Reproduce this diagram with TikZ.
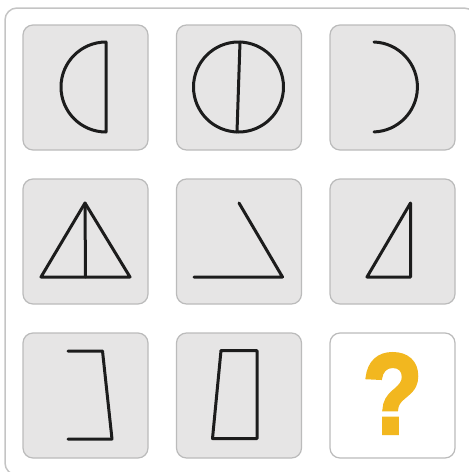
\documentclass[tikz,border=0pt]{standalone}
\usepackage{fontspec}
\newfontfamily\qfont[FakeBold=3]{Liberation Sans Bold}
\definecolor{cellfill}{HTML}{E6E5E5}
\definecolor{cellline}{HTML}{BBBBBB}
\definecolor{frameline}{HTML}{C4C4C4}
\definecolor{ink}{HTML}{1C1C1C}
\definecolor{qyellow}{HTML}{F2B71F}
\tikzset{
  cellbox/.style={draw=cellline, line width=1.2pt, fill=cellfill, rounded corners=10pt},
  emptycell/.style={draw=cellline, line width=1.2pt, fill=white, rounded corners=10pt},
  figline/.style={draw=ink, line width=3pt, line join=round, line cap=round},
}
\begin{document}
\begin{tikzpicture}[x=1pt,y=-1pt]
\useasboundingbox (0,0) rectangle (469,472);
\clip (0,0) rectangle (469,472);
\draw[frameline, line width=1.5pt, rounded corners=12pt] (5,8) rectangle (476,475);
% cells
\foreach \cx/\cy [count=\i] in {23/25,176.5/25,330/25,23/179,176.5/179,330/179,23/333,176.5/333}{
  \path[cellbox] (\cx,\cy) rectangle ++(125,125);
}
\path[emptycell] (330,333) rectangle ++(125,125);
% cell 1: half disc
\draw[figline] (106,42) arc[start angle=-90, end angle=-270, radius=45] -- cycle;
% cell 2: circle with chord
\draw[figline] (238.5,87) circle[radius=45];
\draw[figline] (240,42) -- (237,132);
% cell 3: arc
\draw[figline] (374,42) arc[start angle=-88, end angle=88, radius=45];
% cell 4: triangle with median
\draw[figline] (41,277) -- (130,277) -- (85,203) -- cycle;
\draw[figline] (85,203) -- (85.5,277);
% cell 5: angle
\draw[figline] (239,203) -- (282.5,277) -- (194,277);
% cell 6: right triangle
\draw[figline] (410.5,203) -- (410.5,277) -- (367,277) -- cycle;
% cell 7: bracket
\draw[figline] (68,351) -- (102.5,351) -- (112,439) -- (68,439);
% cell 8: quadrilateral
\draw[figline] (221,350.5) -- (257,350.5) -- (257,438.5) -- (212.5,438.5) -- cycle;
% cell 9: question mark
\node[text=qyellow, inner sep=0pt, font=\qfont\fontsize{114}{114}\selectfont, xscale=0.86] (q) at (392.5,393.5) {?};
\end{tikzpicture}
\end{document}
